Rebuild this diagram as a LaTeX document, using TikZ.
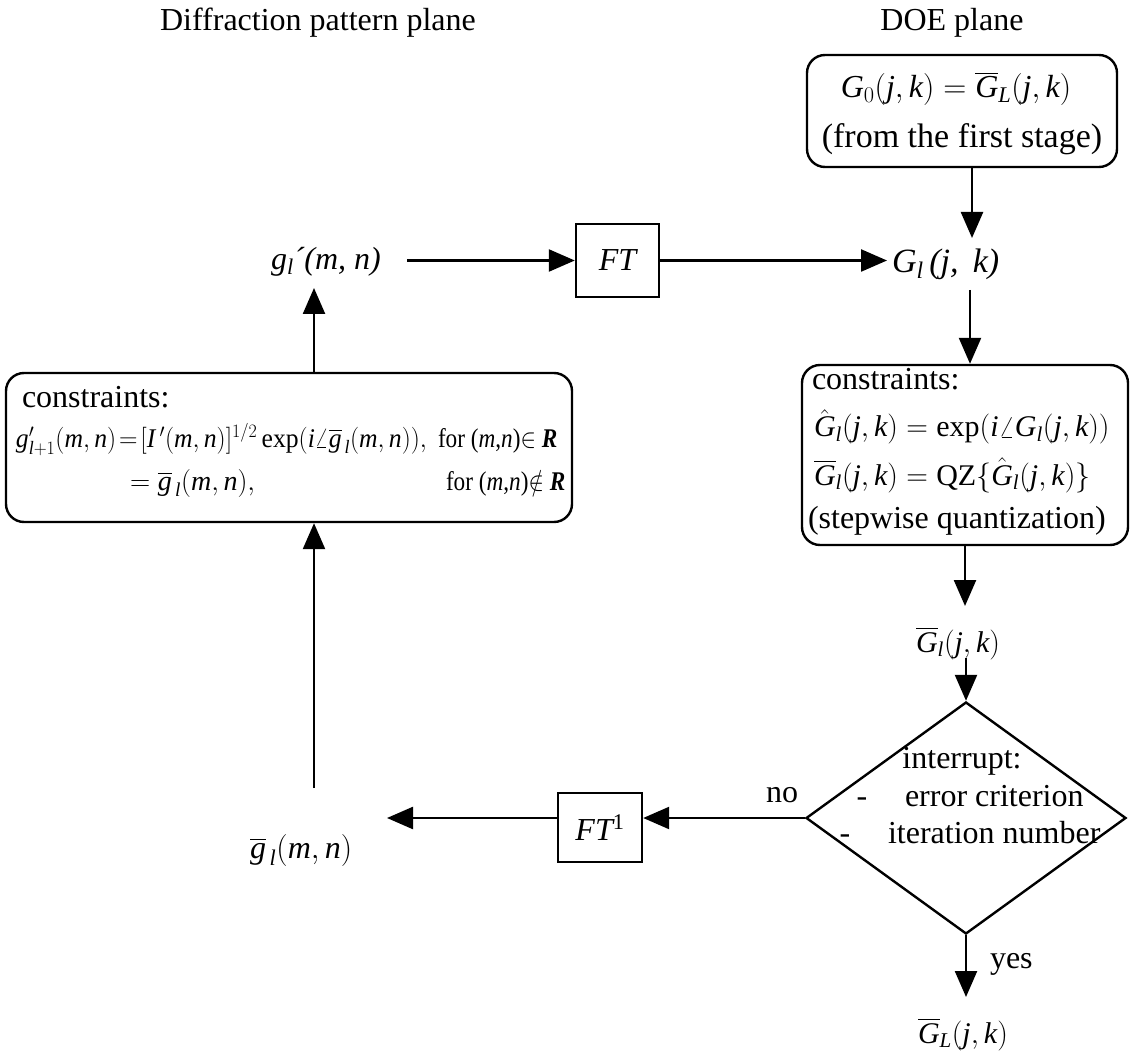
\RequirePackage{fix-cm}
\documentclass[tikz,border=0pt]{standalone}
\usepackage{amsmath}
\usepackage{graphicx}
\usepackage{fontspec}
\setmainfont{Liberation Serif}
\usetikzlibrary{arrows.meta,shapes.geometric}
\newcommand{\vi}[1]{\text{\itshape #1}}
\newcommand{\fs}[1]{\fontsize{#1}{#1}\selectfont}
\begin{document}
\begin{tikzpicture}[x=1pt,y=-1pt,
  txt/.style={font=\fs{32}, inner sep=0pt, outer sep=0pt},
  fml/.style={font=\fs{30}, inner sep=0pt, outer sep=0pt},
  rbox/.style={draw, line width=2.4pt, rounded corners=18pt, inner sep=0pt},
  sqbox/.style={draw, line width=2.4pt, inner sep=0pt, font=\fs{32}},
  arr/.style={line width=2.4pt, -{Triangle[length=26pt,width=22pt]}},
]
\useasboundingbox (0,0) rectangle (1130,1056);

% titles
\node[txt, anchor=base] (t1) at (318,31) {Diffraction pattern plane};
\node[txt, anchor=base] (t2) at (952,31) {DOE plane};

% top box
\node[rbox, minimum width=310pt, minimum height=112pt] (topbox) at (962,111) {};
\node[fml, font=\fs{32}, anchor=base] (g0) at (956,98) {$\vi{G}_0(\vi{j},\vi{k}) = \overline{\vi{G}}_{\vi{L}}(\vi{j},\vi{k})$};
\node[txt, font=\fs{34}, anchor=base] (fs) at (962,148) {(from the first stage)};

% G_l and g_l'
\node[txt, font=\fs{34}, anchor=base west] (Gl) at (892,273) {\itshape G\textsubscript{l}\,(j,\ \,k)};
\node[txt, anchor=base west] (gp) at (271,270) {\itshape g\textsubscript{l}´(m, n)};
\node[sqbox, minimum width=83pt, minimum height=73pt] (ft) at (617.5,260.5) {\itshape FT};

\coordinate (gltop) at (972,238);
\draw[arr] (topbox.south -| gltop) -- (gltop);
\coordinate (a1) at (407,260.5);
\draw[arr] (a1) -- (ft.west);
\coordinate (a2) at (887,260.5);
\draw[arr] (ft.east) -- (a2);

% right constraints box
\node[rbox, minimum width=326pt, minimum height=180pt] (rb) at (965,455) {};
\node[txt, anchor=base west] (rc1) at (812,390) {constraints:};
\node[fml, anchor=base west] (rc2) at (814,437) {$\hat{\vi{G}}_{\vi{l}}(\vi{j},\vi{k}) = \text{exp}(\vi{i}\angle\vi{G}_{\vi{l}}(\vi{j},\vi{k}))$};
\node[fml, anchor=base west] (rc3) at (814,485) {$\overline{\vi{G}}_{\vi{l}}(\vi{j},\vi{k}) = \text{QZ}\{\hat{\vi{G}}_{\vi{l}}(\vi{j},\vi{k})\}$};
\node[txt, anchor=base west] (rc4) at (808,528) {(stepwise quantization)};
\coordinate (glbot) at (970,290);
\draw[arr] (glbot) -- (glbot |- rb.north);

% G bar l
\node[fml, anchor=base west] (Gb) at (916,652) {$\overline{\vi{G}}_{\vi{l}}(\vi{j},\vi{k})$};
\coordinate (gbtop) at (965,606);
\draw[arr] (rb.south -| gbtop) -- (gbtop);

% diamond
\node[draw, diamond, line width=2.4pt, minimum width=320pt, minimum height=232pt, inner sep=0pt] (dia) at (966,818) {};
\coordinate (gbbot) at (966,658);
\draw[arr] (gbbot) -- (dia.north);
\node[txt, anchor=base] (d1) at (962,768) {interrupt:};
\node[txt, anchor=base] (d2a) at (862,806) {-};
\node[txt, anchor=base west] (d2b) at (905,806) {error criterion};
\node[txt, anchor=base] (d3a) at (845,843) {-};
\node[txt, anchor=base west] (d3b) at (888,843) {iteration number};

% no branch
\node[txt, anchor=base] (no) at (782,802) {no};
\node[sqbox, minimum width=84pt, minimum height=69pt] (fti) at (600,827.5) {{\itshape FT}\textsuperscript{1}};
\draw[arr] (dia.west) -- (dia.west -| fti.east);
\coordinate (gbl) at (387,818);
\draw[arr] (fti.west |- gbl) -- (gbl);
\node[fml, font=\fs{32}, anchor=base west] (gbar) at (250,858) {$\overline{\vi{g}}_{\,\vi{l}}(\vi{m},\vi{n})$};

% left constraints box
\node[rbox, minimum width=566pt, minimum height=149pt] (lb) at (289,447.5) {};
\node[txt, anchor=base west] (lc1) at (22,408) {constraints:};
\node[fml, font=\fs{27}, anchor=base west] (lc2) at (16,447) {\scalebox{0.95}[1]{\thickmuskip=2mu\medmuskip=1mu$\vi{g}'_{\vi{l}+1}(\vi{m},\vi{n}) = [\vi{I}\,'(\vi{m},\vi{n})]^{1/2}\,\text{exp}(\vi{i}\angle\overline{\vi{g}}_{\,\vi{l}}(\vi{m},\vi{n})),$}};
\node[fml, font=\fs{27}, anchor=base west] (lc2b) at (438,447) {\scalebox{0.86}[1]{for (\textit{m},\textit{n})$\in$ \textbf{\textit{R}}}};
\node[fml, font=\fs{28}, anchor=base west] (lc3) at (130,490) {$=\overline{\vi{g}}_{\,\vi{l}}(\vi{m},\vi{n}),$};
\node[fml, font=\fs{27}, anchor=base west] (lc3b) at (446,490) {\scalebox{0.86}[1]{for (\textit{m},\textit{n})$\notin$ \textbf{\textit{R}}}};
\coordinate (gbup) at (314,788);
\draw[arr] (gbup) -- (gbup |- lb.south);
\coordinate (gptip) at (314,288);
\draw[arr] (lb.north -| gptip) -- (gptip);

% yes branch
\node[txt, anchor=base west] (yes) at (990,968) {yes};
\node[fml, anchor=base west] (GL) at (918,1043) {$\overline{\vi{G}}_{\vi{L}}(\vi{j},\vi{k})$};
\coordinate (gltip) at (966,997);
\draw[arr] (dia.south) -- (gltip);
\end{tikzpicture}
\end{document}
